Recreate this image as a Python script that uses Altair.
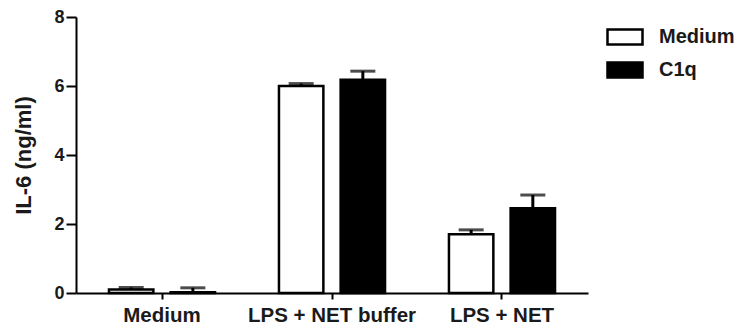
import altair as alt
import pandas as pd

groups = ["Medium", "LPS + NET buffer", "LPS + NET"]
series = ["Medium", "C1q"]
medium_vals = [0.10, 6.00, 1.70]
medium_err = [0.06, 0.07, 0.13]
c1q_vals = [0.02, 6.18, 2.46]
c1q_err = [0.13, 0.25, 0.38]
y_ticks = [0, 2, 4, 6, 8]

rows = []
for g, v, e in zip(groups, medium_vals, medium_err):
    rows.append({"group": g, "series": "Medium", "value": v, "top": v + e})
for g, v, e in zip(groups, c1q_vals, c1q_err):
    rows.append({"group": g, "series": "C1q", "value": v, "top": v + e})
df = pd.DataFrame(rows)

FONT = "Liberation Sans"
TXT = "#1a1a1a"

x = alt.X(
    "group:N",
    sort=groups,
    scale=alt.Scale(paddingInner=0.376, paddingOuter=0.194),
    axis=alt.Axis(
        title=None, labelAngle=0, labelFont=FONT, labelFontSize=20.5,
        labelFontWeight="bold", labelColor=TXT, labelPadding=6,
        tickSize=6, tickWidth=2, tickColor="black",
        domainColor="black", domainWidth=2,
    ),
)
xo = alt.XOffset("series:N", sort=series,
                 scale=alt.Scale(paddingInner=0.28, paddingOuter=0))

yscale = alt.Scale(domain=[0, 8])
yaxis = alt.Axis(
    title="IL-6 (ng/ml)", titleFont=FONT, titleFontSize=22,
    titleFontWeight="bold", titleColor=TXT, titlePadding=18,
    values=y_ticks, grid=False, labelFont=FONT, labelFontSize=18,
    labelFontWeight="bold", labelColor=TXT, labelPadding=2,
    tickSize=10, tickWidth=2, tickColor="black",
    domainColor="black", domainWidth=2,
)

base = alt.Chart(df).encode(x=x, xOffset=xo)

bars = base.mark_bar(stroke="black", strokeWidth=2.5).encode(
    y=alt.Y("value:Q", scale=yscale, axis=yaxis),
    fill=alt.Fill(
        "series:N",
        scale=alt.Scale(domain=series, range=["white", "black"]),
        legend=alt.Legend(
            title=None, orient="none", legendX=535, legendY=6,
            symbolType="M-1.4,-0.6H1.4V0.6H-1.4Z", symbolSize=625,
            symbolStrokeColor="black", symbolStrokeWidth=2.5,
            labelFont=FONT, labelFontSize=20, labelFontWeight="bold",
            labelColor=TXT, labelOffset=20, rowPadding=6, padding=0,
        ),
    ),
)

err = base.mark_rule(color="black", strokeWidth=3).encode(
    y=alt.Y("value:Q", scale=yscale), y2="top:Q"
)
cap = base.mark_tick(color="black", thickness=3, size=25).encode(
    y=alt.Y("top:Q", scale=yscale)
)

chart = alt.layer(err, cap, bars).properties(
    width=512, height=276,
    autosize=alt.AutoSizeParams(type="none"),
    padding={"left": 68, "top": 9, "right": 146, "bottom": 35},
    background="white",
).configure_view(stroke=None)

chart.save("out.html", embed_options={"renderer": "svg", "actions": False})
